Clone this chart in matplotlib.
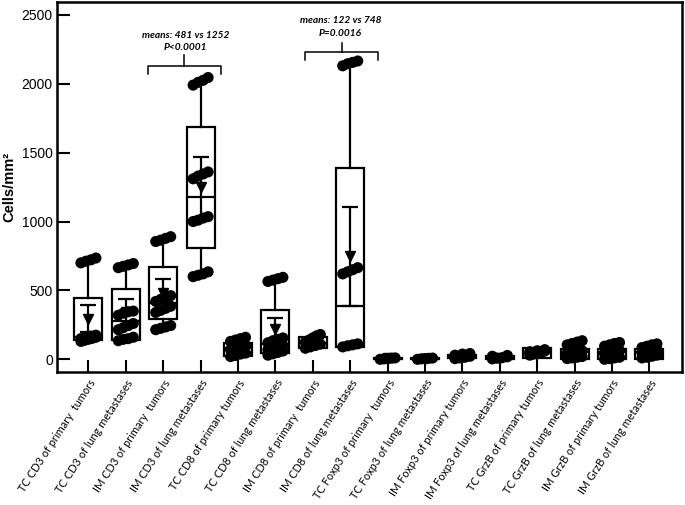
"""Box plots of immune cell densities, primary tumors vs lung metastases."""
import matplotlib
matplotlib.use("Agg")
import matplotlib.pyplot as plt
import numpy as np

labels = [
    "TC CD3 of primary  tumors", "TC CD3 of lung metastases",
    "IM CD3 of primary  tumors", "IM CD3 of lung metastases",
    "TC CD8 of primary tumors", "TC CD8 of lung metastases",
    "IM CD8 of primary  tumors", "IM CD8 of lung metastases",
    "TC Foxp3 of primary  tumors", "TC Foxp3 of lung metastases",
    "IM Foxp3 of primary tumors", "IM Foxp3 of lung metastases",
    "TC GrzB of primary tumors", "TC GrzB of lung metastases",
    "IM GrzB of primary tumors", "IM GrzB of lung metastases",
]

# box stats
whis_lo = [140, 135, 225, 615, 20, 40, 80, 90, 0, 0, 5, 3, 5, 0, 0, 5]
q1 = [140, 140, 290, 810, 25, 45, 80, 92, 2, 2, 8, 5, 8, 0, 0, 5]
med = [165, 280, 410, 1180, 80, 110, 120, 387, 5, 5, 15, 12, 45, 50, 50, 55]
q3 = [445, 510, 670, 1685, 115, 355, 160, 1386, 10, 8, 30, 22, 80, 72, 72, 75]
whis_hi = [715, 690, 885, 2040, 150, 580, 180, 2150, 12, 10, 42, 28, 80, 128, 115, 104]
means = [295, 340, 481, 1252, 85, 220, 122, 748, 6, 5, 18, 13, 45, 55, 50, 55]
sds = [100, 95, 104, 218, 40, 80, 35, 359, 4, 3, 12, 8, 20, 40, 38, 30]

# individual points, grouped in the visible clusters
points = [
    [[700, 712, 722, 735], [130, 138, 145, 152, 160], [150, 160, 168, 175]],
    [[665, 675, 685, 695], [320, 335, 345, 350], [215, 230, 245, 260], [135, 145, 150, 160]],
    [[855, 865, 878, 890], [420, 435, 450, 462], [340, 355, 370, 385], [215, 225, 235, 245]],
    [[1990, 2010, 2025, 2045], [1310, 1330, 1345, 1360], [1000, 1010, 1025, 1035], [600, 610, 620, 635]],
    [[130, 140, 150, 160], [70, 80, 90, 100], [20, 28, 38, 45]],
    [[565, 575, 585, 595], [120, 135, 145, 155], [70, 80, 90, 100], [30, 40, 50, 60]],
    [[125, 140, 155, 170, 180], [80, 90, 100, 110]],
    [[2130, 2145, 2155, 2165], [620, 635, 650, 665], [90, 98, 105, 112]],
    [[0, 3, 6, 8, 10]],
    [[0, 3, 5, 7, 9]],
    [[5, 10, 15, 22], [30, 38, 42]],
    [[3, 8, 12, 18], [22, 28]],
    [[30, 38, 45, 52, 60], [55, 62, 70]],
    [[105, 115, 125, 135], [40, 50, 55, 62], [5, 10, 15, 20]],
    [[95, 105, 115, 122], [40, 50, 58, 65], [0, 5, 10, 15]],
    [[85, 95, 105, 112], [45, 55, 62, 70], [10, 15, 22, 30]],
]

comparisons = [
    ("means: 481 vs 1252", "P<0.0001"),
    ("means: 122 vs 748", "P=0.0016"),
]

fig = plt.figure(figsize=(6.85, 5.05), dpi=100)
ax = fig.add_axes([0.0832, 0.2634, 0.9124, 0.7326])

pos = np.arange(len(labels))
stats = []
for i in range(len(labels)):
    stats.append(dict(med=med[i], q1=q1[i], q3=q3[i], whislo=whis_lo[i],
                      whishi=whis_hi[i], fliers=[]))

ax.bxp(stats, positions=pos, widths=0.75, showcaps=False, showfliers=False,
       patch_artist=True,
       boxprops=dict(facecolor="white", edgecolor="black", linewidth=1.6),
       whiskerprops=dict(color="black", linewidth=1.6),
       medianprops=dict(color="black", linewidth=1.6), zorder=2)

for i, clusters in enumerate(points):
    for cl in clusters:
        off = np.linspace(-0.2, 0.2, len(cl))
        ax.scatter(pos[i] + off, cl, s=64, color="black", edgecolors="none",
                   zorder=3)

ax.errorbar(pos, means, yerr=sds, fmt="v", color="black", ms=7,
            capsize=6, capthick=1.6, elinewidth=1.6, zorder=4)

# significance brackets
brackets = [(1.58, 3.54, 2070, 2130, 2208, 2.6, 2353, 2261),
            (5.80, 7.75, 2172, 2232, 2293, 6.74, 2457, 2366)]
for (x0, x1, y0, yh, yt, xt, yl1, yl2), (t1, t2) in zip(brackets, comparisons):
    xc = (x0 + x1) / 2
    ax.plot([x0, x0, x1, x1], [y0, yh, yh, y0], color="black", lw=1.1)
    ax.plot([xc, xc], [yh, yt], color="black", lw=1.1)
    ax.text(xt, yl1, t1, ha="center", va="center", fontsize=7.3,
            fontweight="bold", fontstyle="italic", family="Lato")
    ax.text(xt, yl2, t2, ha="center", va="center", fontsize=7.3,
            fontweight="bold", fontstyle="italic", family="Lato")

ax.set_xlim(-0.84, 15.87)
ax.set_ylim(-92, 2593)
ax.set_yticks([0, 500, 1000, 1500, 2000, 2500])
ax.set_xticks(pos)
ax.set_xticklabels(labels, rotation=57, ha="right", va="top",
                   rotation_mode="anchor", fontsize=7.9, family="Lato")
for lab in ax.get_yticklabels():
    lab.set_family("Liberation Sans")
    lab.set_fontsize(10)
ax.tick_params(direction="in", length=9, width=1.5, pad=4)
ax.tick_params(axis="y", pad=3)
ax.set_ylabel("Cells/mm²", fontsize=10.5, fontweight="bold",
              family="Liberation Sans", labelpad=4)
for sp in ax.spines.values():
    sp.set_linewidth(1.8)

fig.savefig("out.png", dpi=100)
